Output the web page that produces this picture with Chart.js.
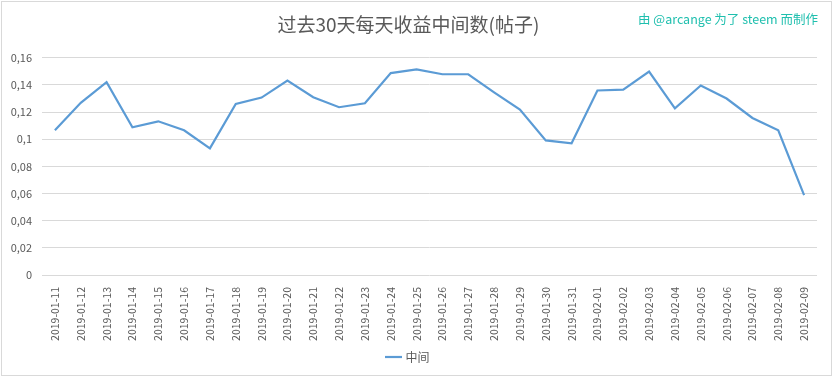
<!DOCTYPE html>
<html>
<head>
<meta charset="utf-8">
<script src="https://cdn.jsdelivr.net/npm/chart.js@4/dist/chart.umd.min.js"></script>
<style>
  html, body { margin: 0; padding: 0; background: #fff; }
  #wrap { position: relative; width: 833px; height: 378px; }
  #credit {
    position: absolute; top: 9px; right: 15px;
    font-family: "Noto Sans CJK SC", "Noto Sans", sans-serif;
    font-size: 12.5px; color: #1fbfae; white-space: nowrap;
  }
</style>
</head>
<body>
<div id="wrap">
  <canvas id="chart" width="833" height="378"></canvas>
  <div id="credit">由 @arcange 为了 steem 而制作</div>
</div>
<script>
const dates = [
  '2019-01-11', '2019-01-12', '2019-01-13', '2019-01-14', '2019-01-15',
  '2019-01-16', '2019-01-17', '2019-01-18', '2019-01-19', '2019-01-20',
  '2019-01-21', '2019-01-22', '2019-01-23', '2019-01-24', '2019-01-25',
  '2019-01-26', '2019-01-27', '2019-01-28', '2019-01-29', '2019-01-30',
  '2019-01-31', '2019-02-01', '2019-02-02', '2019-02-03', '2019-02-04',
  '2019-02-05', '2019-02-06', '2019-02-07', '2019-02-08', '2019-02-09'
]
const medianValues = [
  0.1066, 0.1268, 0.1420, 0.1088, 0.1132,
  0.1066, 0.0933, 0.1260, 0.1307, 0.1433,
  0.1310, 0.1236, 0.1265, 0.1487, 0.1514,
  0.1479, 0.1479, 0.1346, 0.1218, 0.0992,
  0.0970, 0.1359, 0.1366, 0.1499, 0.1228,
  0.1396, 0.1300, 0.1157, 0.1066, 0.0588
]
const seriesName = '中间'
const chartTitle = '过去30天每天收益中间数(帖子)'

const font = '"Noto Sans CJK SC", "Noto Sans", sans-serif'
const textColor = '#595959'
const gridColor = '#d9d9d9'

// thin grey frame round the whole picture
const framePlugin = {
  id: 'frame',
  beforeDraw(chart) {
    const ctx = chart.ctx
    ctx.save()
    ctx.strokeStyle = gridColor
    ctx.lineWidth = 1
    ctx.strokeRect(1.5, 1.5, chart.width - 3, chart.height - 4)
    ctx.restore()
  }
}

new Chart(document.getElementById('chart'), {
  type: 'line',
  data: {
    labels: dates,
    datasets: [{
      label: seriesName,
      data: medianValues,
      borderColor: '#5b9bd5',
      backgroundColor: '#5b9bd5',
      borderWidth: 2.2,
      pointRadius: 0,
      tension: 0
    }]
  },
  options: {
    responsive: false,
    animation: false,
    layout: { padding: { left: 0, right: 16, top: 7, bottom: 5 } },
    plugins: {
      title: {
        display: true,
        text: chartTitle,
        color: textColor,
        font: { family: font, size: 19, weight: 'normal' },
        padding: { top: 6, bottom: 22 }
      },
      legend: {
        display: true,
        position: 'bottom',
        labels: {
          color: textColor,
          font: { family: font, size: 12 },
          usePointStyle: true,
          pointStyle: 'line',
          boxWidth: 28,
          padding: 6
        }
      },
      tooltip: { enabled: false }
    },
    scales: {
      x: {
        offset: true,
        grid: { display: false },
        border: { display: false },
        ticks: {
          color: textColor,
          font: { family: font, size: 10.5 },
          minRotation: 90,
          maxRotation: 90,
          autoSkip: false,
          padding: 4
        },
        afterFit(scale) { scale.height = 70 }
      },
      y: {
        min: 0,
        max: 0.16,
        grid: { color: gridColor, drawTicks: false },
        border: { display: false },
        ticks: {
          stepSize: 0.02,
          color: textColor,
          font: { family: font, size: 11 },
          padding: 10,
          callback: v => String(parseFloat(v.toFixed(2))).replace('.', ',')
        },
        afterFit(scale) { scale.width = 42 }
      }
    }
  },
  plugins: [framePlugin]
})
</script>
</body>
</html>
